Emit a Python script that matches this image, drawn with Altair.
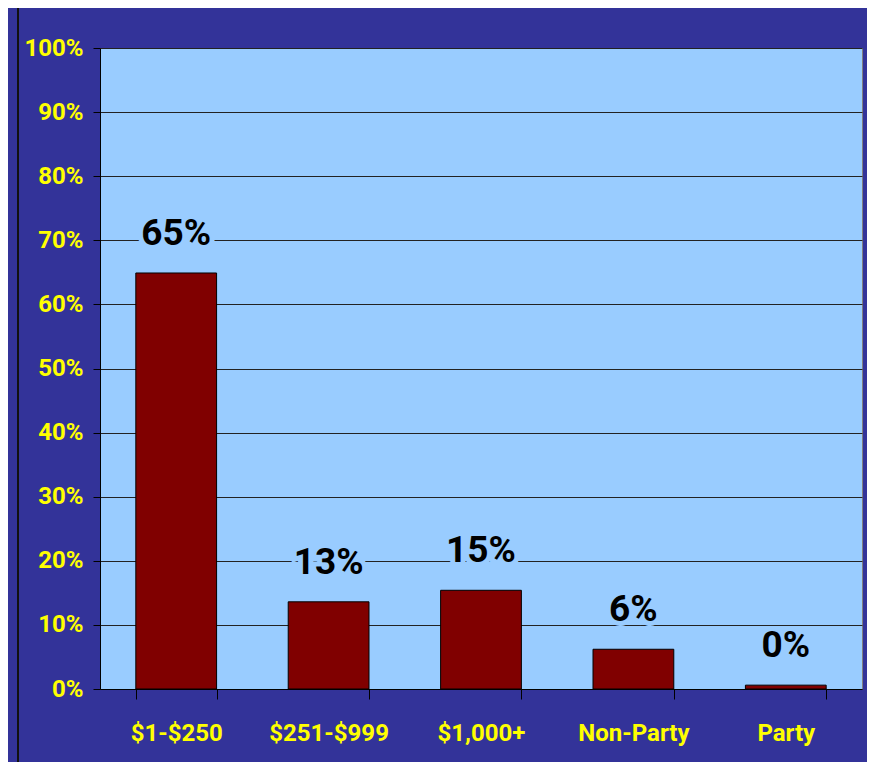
import altair as alt
import pandas as pd

categories = ["$1-$250", "$251-$999", "$1,000+", "Non-Party", "Party"]
shares = [0.649, 0.136, 0.154, 0.062, 0.006]
labels = ["65%", "13%", "15%", "6%", "0%"]

df = pd.DataFrame({"cat": categories, "share": shares, "label": labels})

FONT = "Roboto"

x = alt.X(
    "cat:N", sort=categories, title=None,
    scale=alt.Scale(paddingInner=0.47, paddingOuter=0.235),
    axis=alt.Axis(labelAngle=0, tickBand="extent", tickSize=10, labelPadding=22,
                  labelColor="#FFFF00", labelFont=FONT, labelFontSize=24,
                  labelFontWeight="bold", domainColor="black", tickColor="black",
                  grid=False),
)
y = alt.Y(
    "share:Q", title=None, scale=alt.Scale(domain=[0, 1]),
    axis=alt.Axis(format=".0%", tickCount=10, tickSize=7, labelPadding=10,
                  labelColor="#FFFF00", labelFont=FONT, labelFontSize=24,
                  labelFontWeight="bold", domainColor="black", tickColor="black",
                  grid=True, gridColor="#222222", gridWidth=1),
)

base = alt.Chart(df)

frame = base.mark_rect(filled=False, stroke="#111111", strokeWidth=2).encode(
    x=alt.value(-82), x2=alt.value(772), y=alt.value(-41), y2=alt.value(800)
)

bars = base.mark_bar(color="#800000", stroke="black", strokeWidth=1).encode(x=x, y=y)

halo = base.mark_text(baseline="middle", dy=-39, font=FONT, fontSize=37,
                      fontWeight="bold", color="#99CCFF", stroke="#99CCFF",
                      strokeWidth=10).encode(x=x, y=y, text="label:N")
text = base.mark_text(baseline="middle", dy=-39, font=FONT, fontSize=37,
                      fontWeight="bold", color="black").encode(x=x, y=y, text="label:N")

chart = alt.layer(frame, bars, halo, text).properties(
    width=762, height=641,
    padding={"left": 92, "top": 40, "right": 5, "bottom": 73},
    autosize=alt.AutoSizeParams(type="none"),
    background="#333399",
).configure_view(fill="#99CCFF", stroke="#808080")

chart.save("out.html", embed_options={"renderer": "svg", "actions": False})
